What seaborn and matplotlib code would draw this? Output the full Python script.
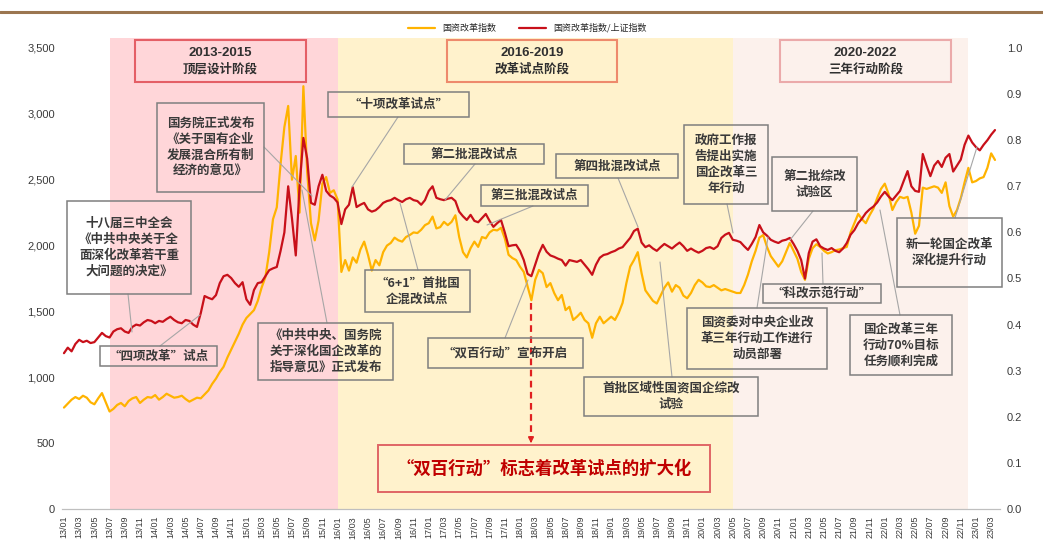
import numpy as np
import pandas as pd
import seaborn as sns
import matplotlib.pyplot as plt
from matplotlib.lines import Line2D
from matplotlib.patches import Rectangle

# 国资改革指数 (left axis), one value every half month from 2013/01
soe_index = [
    770, 800, 830, 850, 835, 860, 845, 810, 795, 840,
    880, 810, 740, 760, 790, 805, 780, 820, 840, 850,
    805, 830, 850, 845, 865, 830, 850, 875, 860, 845,
    850, 860, 835, 815, 830, 845, 840, 870, 900, 950,
    990, 1040, 1080, 1150, 1210, 1270, 1330, 1400, 1450, 1480,
    1510, 1580, 1680, 1760, 1950, 2200, 2290, 2620, 2900, 3060,
    2500, 2680, 2250, 3210, 2560, 2170, 2040, 2190, 2470, 2520,
    2400, 2420, 2350, 1800, 1890, 1810, 1910, 1870, 1970, 2030,
    1930, 1810, 1890, 1850, 1950, 2000, 2020, 2060, 2040, 2030,
    2065, 2080, 2100, 2095, 2120, 2155, 2170, 2220, 2130, 2140,
    2180, 2155, 2180, 2230, 2065, 1950, 1910, 1980, 2030, 1990,
    2065, 2055, 2100, 2120, 2115, 2135, 2055, 1930, 1905, 1890,
    1840, 1800, 1690, 1585, 1740, 1815, 1790, 1685, 1715, 1640,
    1585, 1625, 1510, 1535, 1435, 1460, 1490, 1435, 1410, 1300,
    1410, 1460, 1410, 1435, 1460, 1435, 1490, 1565, 1715, 1840,
    1890, 1950, 1790, 1660, 1620, 1580, 1560, 1620, 1680, 1720,
    1650, 1700, 1680, 1620, 1600, 1640, 1700, 1740, 1720, 1690,
    1685, 1700, 1680, 1660, 1670, 1660, 1650, 1640, 1640, 1700,
    1780, 1880, 1960, 2060, 2080, 1990, 1920, 1880, 1840, 1880,
    1950, 2020, 1960, 1900, 1800, 1740, 1900, 1980, 2010, 1990,
    1960, 1940, 1950, 1965, 1970, 1980, 1990, 2100, 2170, 2240,
    2200, 2170, 2230, 2280, 2360, 2430, 2470, 2390, 2270, 2330,
    2370, 2360, 2370, 2250, 2090, 2150, 2440, 2430, 2440, 2450,
    2440, 2400, 2480, 2300, 2220, 2270, 2360, 2480, 2590, 2480,
    2490, 2510, 2520, 2590, 2700, 2650,
]

# 国资改革指数/上证指数 (right axis)
soe_ratio = [
    0.338, 0.350, 0.342, 0.358, 0.367, 0.362, 0.365, 0.360, 0.362, 0.372,
    0.382, 0.375, 0.372, 0.385, 0.390, 0.392, 0.385, 0.382, 0.395, 0.400,
    0.398, 0.405, 0.410, 0.408, 0.403, 0.408, 0.406, 0.412, 0.417, 0.410,
    0.405, 0.403, 0.410, 0.408, 0.400, 0.395, 0.425, 0.462, 0.458, 0.455,
    0.464, 0.490, 0.505, 0.508, 0.501, 0.490, 0.482, 0.492, 0.455, 0.443,
    0.475, 0.490, 0.492, 0.505, 0.518, 0.522, 0.525, 0.560, 0.600, 0.700,
    0.630, 0.550, 0.700, 0.805, 0.760, 0.664, 0.660, 0.700, 0.725, 0.690,
    0.680, 0.675, 0.665, 0.618, 0.650, 0.660, 0.698, 0.655, 0.660, 0.664,
    0.650, 0.645, 0.648, 0.655, 0.664, 0.668, 0.670, 0.675, 0.670, 0.666,
    0.672, 0.675, 0.670, 0.668, 0.660, 0.670, 0.690, 0.700, 0.675, 0.672,
    0.670, 0.673, 0.675, 0.668, 0.645, 0.635, 0.627, 0.638, 0.625, 0.622,
    0.631, 0.640, 0.625, 0.612, 0.620, 0.627, 0.600, 0.570, 0.572, 0.573,
    0.560, 0.540, 0.510, 0.505, 0.530, 0.555, 0.573, 0.558, 0.550, 0.547,
    0.543, 0.540, 0.528, 0.540, 0.538, 0.536, 0.540, 0.530, 0.520, 0.508,
    0.530, 0.545, 0.551, 0.553, 0.557, 0.560, 0.565, 0.568, 0.578, 0.588,
    0.603, 0.608, 0.578, 0.568, 0.572, 0.565, 0.560, 0.568, 0.575, 0.570,
    0.565, 0.572, 0.578, 0.570, 0.560, 0.565, 0.560, 0.556, 0.560, 0.566,
    0.568, 0.564, 0.570, 0.588, 0.595, 0.599, 0.584, 0.582, 0.579, 0.570,
    0.562, 0.575, 0.590, 0.616, 0.600, 0.593, 0.584, 0.580, 0.577, 0.582,
    0.584, 0.588, 0.575, 0.560, 0.540, 0.500, 0.555, 0.580, 0.585, 0.570,
    0.565, 0.562, 0.566, 0.560, 0.557, 0.565, 0.577, 0.595, 0.605, 0.620,
    0.630, 0.642, 0.650, 0.656, 0.665, 0.678, 0.688, 0.678, 0.670, 0.680,
    0.690, 0.712, 0.733, 0.700, 0.690, 0.688, 0.770, 0.745, 0.722, 0.745,
    0.755, 0.742, 0.762, 0.770, 0.732, 0.745, 0.758, 0.790, 0.810, 0.795,
    0.785, 0.778, 0.790, 0.800, 0.812, 0.822,
]

# stages, in months since 2013/01
stage_start = [6, 36, 88]
stage_end = [36, 88, 119]
stage_colors = ['#FFD6D9', '#FFF2CC', '#FCF1EC']
stage_years = ['2013-2015', '2016-2019', '2020-2022']
stage_names = ['顶层设计阶段', '改革试点阶段', '三年行动阶段']

legend_labels = ['国资改革指数', '国资改革指数/上证指数']

W, H = 1043, 540
YEL = '#FFB300'
RED = '#C8101A'
TXT = '#3A3A3A'
GREY = '#7F7F7F'

sns.set_style('white')
plt.rcParams['font.family'] = ['Noto Sans CJK SC', 'DejaVu Sans']


def fx(px):
    return px / W


def fy(py):
    return 1 - py / H


df = pd.DataFrame({'t': np.arange(len(soe_index)) * 0.5,
                   'idx': soe_index, 'ratio': soe_ratio})

fig = plt.figure(figsize=(W / 100, H / 100), dpi=100)
ax = fig.add_axes([fx(62), fy(509), (1000 - 62) / W, (509 - 38) / H])
ax2 = ax.twinx()

for s, e, c in zip(stage_start, stage_end, stage_colors):
    ax.axvspan(s, e, color=c, lw=0, zorder=0)

sns.lineplot(data=df, x='t', y='idx', ax=ax, color=YEL, lw=1.6, legend=False)
sns.lineplot(data=df, x='t', y='ratio', ax=ax2, color=RED, lw=1.6, legend=False)

ymax = 3500 * (509 - 38) / (509 - 48)
ax.set_xlim(-0.26, 123.16)
ax.set_ylim(0, ymax)
ax2.set_ylim(0, ymax / 3500)
ax.set_yticks(range(0, 3501, 500))
ax.set_yticklabels([f'{v:,}' for v in range(0, 3501, 500)])
ax2.set_yticks(np.arange(0, 1.01, 0.1))
ax2.set_yticklabels([f'{v:.1f}' for v in np.arange(0, 1.01, 0.1)])

ticks = list(range(0, 123, 2))
ax.set_xticks(ticks)
ax.set_xticklabels([f'{13 + m // 12:02d}/{m % 12 + 1:02d}' for m in ticks],
                   rotation=90, fontsize=6.5, color=TXT,
                   fontfamily='Liberation Sans')
ax.tick_params(axis='x', length=3, color='#BFBFBF', pad=2)
ax.tick_params(axis='y', length=0, labelsize=8, labelcolor=TXT, pad=5)
ax2.tick_params(axis='y', length=0, labelsize=8, labelcolor=TXT, pad=5)
for lab in ax.get_yticklabels() + ax2.get_yticklabels():
    lab.set_fontfamily('Liberation Sans')
ax.set_xlabel('')
ax.set_ylabel('')
ax2.set_ylabel('')
for a in (ax, ax2):
    for side in ('left', 'right', 'top'):
        a.spines[side].set_visible(False)
    a.spines['bottom'].set_color('#BFBFBF')
ax.grid(False)
ax2.grid(False)

# top rule and legend
fig.add_artist(Line2D([0, 1], [fy(12), fy(12)], color='#9B7650', lw=2.2))
handles = [Line2D([], [], color=YEL, lw=1.6), Line2D([], [], color=RED, lw=1.6)]
fig.legend(handles, legend_labels, loc='center', bbox_to_anchor=(fx(527), fy(28)),
           ncol=2, frameon=False, fontsize=6.5, handlelength=3, columnspacing=2.5)


def box(x0, y0, x1, y1, edge=GREY, lw=1.1):
    fig.add_artist(Rectangle((fx(x0), fy(y1)), fx(x1) - fx(x0), fy(y0) - fy(y1),
                             transform=fig.transFigure, fill=False,
                             edgecolor=edge, lw=lw, zorder=5))


def note(x0, y0, x1, y1, text, size=9, color=TXT, edge=GREY, lw=1.1):
    box(x0, y0, x1, y1, edge, lw)
    fig.text(fx((x0 + x1) / 2), fy((y0 + y1) / 2), text, ha='center', va='center',
             fontsize=size, color=color, fontweight='bold', linespacing=1.3,
             zorder=6)


def leader(p0, p1, color='#A6A6A6'):
    fig.add_artist(Line2D([fx(p0[0]), fx(p1[0])], [fy(p0[1]), fy(p1[1])],
                          color=color, lw=0.8, zorder=4))


# stage headers
stage_boxes = [(135, 306), (447, 617), (780, 951)]
stage_edges = ['#E45F66', '#EE8A6C', '#EBAAAA']
for (x0, x1), yr, nm, ec in zip(stage_boxes, stage_years, stage_names, stage_edges):
    box(x0, 40, x1, 82, ec, 1.5)
    fig.text(fx((x0 + x1) / 2), fy(53), yr, ha='center', va='center', fontsize=9.5,
             fontweight='bold', color='#303030', fontfamily='Liberation Sans')
    fig.text(fx((x0 + x1) / 2), fy(69), nm, ha='center', va='center', fontsize=9,
             fontweight='bold', color='#303030')

note(157, 103, 264, 192, '国务院正式发布\n《关于国有企业\n发展混合所有制\n经济的意见》')
leader((264, 147), (312, 196))
note(67, 201, 191, 294, '十八届三中全会\n《中共中央关于全\n面深化改革若干重\n大问题的决定》')
leader((128, 294), (132, 332))
note(100, 346, 217, 366, '“四项改革”试点')
leader((160, 346), (200, 315))
note(258, 323, 393, 380, '《中共中央、国务院\n关于深化国企改革的\n指导意见》正式发布')
leader((327, 323), (302, 190))
note(328, 92, 469, 117, '“十项改革试点”')
leader((398, 117), (352, 187))
note(404, 144, 544, 164, '第二批混改试点')
leader((475, 164), (445, 200))
note(365, 270, 470, 312, '“6+1”首批国\n企混改试点')
leader((418, 270), (400, 203))
note(481, 185, 588, 206, '第三批混改试点')
leader((533, 206), (487, 225))
note(556, 154, 678, 178, '第四批混改试点')
leader((618, 178), (638, 227))
note(428, 338, 583, 368, '“双百行动”宣布开启')
leader((505, 338), (528, 280))
note(584, 377, 758, 416, '首批区域性国资国企综改\n试验')
leader((672, 377), (660, 262))
note(684, 125, 768, 204, '政府工作报\n告提出实施\n国企改革三\n年行动')
leader((727, 204), (733, 233))
note(772, 157, 857, 211, '第二批综改\n试验区')
leader((813, 211), (790, 240))
note(763, 284, 881, 303, '“科改示范行动”')
leader((823, 284), (822, 253))
note(687, 308, 827, 369, '国资委对中央企业改\n革三年行动工作进行\n动员部署')
leader((757, 308), (768, 237))
note(850, 315, 952, 375, '国企改革三年\n行动70%目标\n任务顺利完成')
leader((900, 315), (880, 210))
note(897, 218, 1002, 287, '新一轮国企改革\n深化提升行动')
leader((955, 218), (977, 147))

# 双百行动 arrow and conclusion box
fig.add_artist(Line2D([fx(531), fx(531)], [fy(303), fy(438)], color='#E02020',
                      lw=1.6, ls=(0, (3, 2)), zorder=4))
ax.annotate('', xy=(fx(531), fy(446)), xytext=(fx(531), fy(437)),
            xycoords='figure fraction', textcoords='figure fraction',
            arrowprops=dict(arrowstyle='-|>', color='#E02020', lw=1.2,
                            mutation_scale=8))
note(378, 445, 710, 492, '“双百行动”标志着改革试点的扩大化', size=12.5,
     color='#C00000', edge='#E06666', lw=1.4)

fig.savefig('out.png', dpi=100)
